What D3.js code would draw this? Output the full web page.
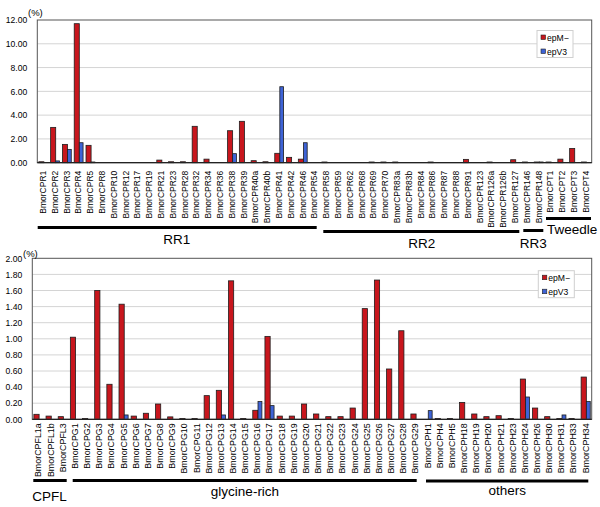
<!DOCTYPE html>
<html><head><meta charset="utf-8">
<script src="https://cdn.jsdelivr.net/npm/d3@7"></script>
<style>body{margin:0;background:#fff}svg{display:block}text{font-family:Arial,"Liberation Sans",sans-serif}</style>
</head><body>
<script>
const seriesNames = ["epM\u2212", "epV3"];
const topCategories = ["BmorCPR1","BmorCPR2","BmorCPR3","BmorCPR4","BmorCPR5","BmorCPR8","BmorCPR10","BmorCPR12","BmorCPR17","BmorCPR19","BmorCPR21","BmorCPR23","BmorCPR28","BmorCPR32","BmorCPR34","BmorCPR36","BmorCPR38","BmorCPR39","BmorCPR40a","BmorCPR40b","BmorCPR41","BmorCPR42","BmorCPR46","BmorCPR54","BmorCPR58","BmorCPR59","BmorCPR62","BmorCPR68","BmorCPR69","BmorCPR70","BmorCPR83a","BmorCPR83b","BmorCPR84","BmorCPR86","BmorCPR87","BmorCPR88","BmorCPR91","BmorCPR123","BmorCPR126a","BmorCPR126b","BmorCPR127","BmorCPR146","BmorCPR148","BmorCPT1","BmorCPT2","BmorCPT3","BmorCPT4"];
const topEpM = [0.08,2.97,1.54,11.69,1.46,0,0,0,0,0,0.22,0.08,0.08,3.06,0.30,0,2.69,3.48,0.17,0.08,0.79,0.45,0.30,0,0.06,0,0,0,0.06,0.06,0.06,0,0,0.06,0,0,0.28,0,0.06,0,0.25,0.06,0.06,0.06,0.30,1.20,0.06];
const topEpV3 = [0,0.15,1.12,1.68,0.06,0,0,0,0,0,0,0,0,0,0,0,0.76,0,0,0,6.39,0,1.68,0,0,0,0,0,0,0,0,0,0,0,0,0,0,0,0,0,0,0,0.06,0,0,0,0];
const topTicks = [0,2,4,6,8,10,12];
const topGroups = ["RR1","RR2","RR3","Tweedle"];

const botCategories = ["BmorCPFL1a","BmorCPFL1b","BmorCPFL3","BmorCPG1","BmorCPG2","BmorCPG3","BmorCPG4","BmorCPG5","BmorCPG6","BmorCPG7","BmorCPG8","BmorCPG9","BmorCPG10","BmorCPG11","BmorCPG12","BmorCPG13","BmorCPG14","BmorCPG15","BmorCPG16","BmorCPG17","BmorCPG18","BmorCPG19","BmorCPG20","BmorCPG21","BmorCPG22","BmorCPG23","BmorCPG24","BmorCPG25","BmorCPG26","BmorCPG27","BmorCPG28","BmorCPG29","BmorCPH1","BmorCPH4","BmorCPH5","BmorCPH18","BmorCPH19","BmorCPH20","BmorCPH21","BmorCPH23","BmorCPH24","BmorCPH26","BmorCPH30","BmorCPH31","BmorCPH33","BmorCPH34"];
const botEpM = [0.062,0.04,0.033,1.02,0.01,1.60,0.435,1.43,0.04,0.075,0.19,0.03,0.01,0.01,0.294,0.36,1.72,0.01,0.112,1.03,0.04,0.04,0.19,0.066,0.033,0.033,0.14,1.375,1.73,0.625,1.10,0.066,0,0.01,0.01,0.21,0.066,0.033,0.045,0.01,0.50,0.14,0.033,0.01,0.01,0.525];
const botEpV3 = [0,0,0,0,0,0,0,0.054,0,0,0,0,0,0,0,0.054,0,0,0.22,0.17,0,0,0,0,0,0,0,0,0,0,0,0,0.108,0,0,0,0,0,0,0,0.277,0,0,0.054,0,0.22];
const botTicks = [0,0.2,0.4,0.6,0.8,1.0,1.2,1.4,1.6,1.8,2.0];
const botGroups = ["CPFL","glycine-rich","others"];

const colors = ["#c8161d", "#3e63d6"];

const W = 600, H = 507;
const svg = d3.select("body").append("svg").attr("width", W).attr("height", H);

function chart(cfg) {
  const x = d3.scaleBand().domain(cfg.cats).range([cfg.x0, cfg.x1]);
  const y = d3.scaleLinear().domain([0, cfg.max]).range([cfg.y0, cfg.y1]);
  const g = svg.append("g");
  const bw = x.bandwidth();
  // gridlines
  g.append("g").selectAll("line").data(cfg.ticks.slice(1, -1)).join("line")
    .attr("x1", cfg.x0).attr("x2", cfg.x1).attr("y1", d => y(d)).attr("y2", d => y(d))
    .attr("stroke", "#d4d4d4").attr("stroke-width", 1);
  // bars
  const series = [cfg.a, cfg.b];
  const offs = [[0.13, 0.43], [0.56, 0.32]];
  series.forEach((vals, si) => {
    g.append("g").selectAll("rect").data(cfg.cats.map((c, i) => ({c, v: vals[i]})).filter(d => d.v > 0)).join("rect")
      .attr("x", d => x(d.c) + bw * offs[si][0])
      .attr("width", bw * offs[si][1])
      .attr("y", d => y(d.v))
      .attr("height", d => Math.max(0.6, y(0) - y(d.v)))
      .attr("fill", colors[si]).attr("stroke", "#1e1e1e").attr("stroke-width", 0.8);
  });
  // frame
  g.append("rect").attr("x", cfg.x0).attr("y", cfg.y1).attr("width", cfg.x1 - cfg.x0).attr("height", cfg.y0 - cfg.y1)
    .attr("fill", "none").attr("stroke", "#555").attr("stroke-width", 1);
  g.append("line").attr("x1", cfg.x0).attr("x2", cfg.x1).attr("y1", cfg.y0).attr("y2", cfg.y0).attr("stroke", "#222").attr("stroke-width", 1.2);
  // y axis
  const ya = g.append("g").attr("transform", `translate(${cfg.x0},0)`)
    .call(d3.axisLeft(y).tickValues(cfg.ticks).tickFormat(d3.format(".2f")).tickSize(0).tickPadding(10));
  ya.select(".domain").remove();
  ya.selectAll("text").attr("font-size", 8.6).attr("fill", "#000").style("font-family", "Arial, 'Liberation Sans', sans-serif");
  g.append("text").attr("x", cfg.pctX).attr("y", cfg.pctY).attr("font-size", 9.5).text("(%)");
  // x axis
  const xa = g.append("g").attr("transform", `translate(0,${cfg.y0})`)
    .call(d3.axisBottom(x).tickSize(0));
  xa.select(".domain").remove();
  xa.selectAll("text").attr("transform", "rotate(-90)").attr("text-anchor", "end")
    .attr("x", -cfg.lblGap).attr("y", 0).attr("dy", "0.34em").attr("dx", 0)
    .attr("font-size", cfg.lblSize).attr("fill", "#000").style("font-family", "Arial, 'Liberation Sans', sans-serif");
  // legend
  const lg = g.append("g").attr("transform", `translate(${cfg.legX},${cfg.legY})`);
  lg.append("rect").attr("width", 36).attr("height", 27).attr("fill", "#fff").attr("stroke", "#cfcfcf");
  seriesNames.forEach((n, i) => {
    lg.append("rect").attr("x", 4).attr("y", 4.5 + i * 14).attr("width", 4.5).attr("height", 4.5)
      .attr("fill", colors[i]).attr("stroke", "#222").attr("stroke-width", 0.6);
    lg.append("text").attr("x", 10).attr("y", 10 + i * 14).attr("font-size", 8.6).text(n);
  });
  // groups
  cfg.groups.forEach((gr, i) => {
    const s = cfg.groupSpec[i];
    g.append("line").attr("x1", s.l1).attr("x2", s.l2).attr("y1", s.ly).attr("y2", s.ly)
      .attr("stroke", "#000").attr("stroke-width", 3);
    g.append("text").attr("x", s.tx).attr("y", s.ty).attr("text-anchor", s.anchor).attr("font-size", 13.5).text(gr);
  });
}

chart({cats: topCategories, a: topEpM, b: topEpV3, max: 12, ticks: topTicks,
  x0: 37.3, x1: 591.7, y0: 162.7, y1: 20, pctX: 28, pctY: 16, lblGap: 8, lblSize: 8.5,
  legX: 537, legY: 30.5, groups: topGroups,
  groupSpec: [
    {l1: 37.7, l2: 316.7, ly: 227.5, tx: 176.7, ty: 243.5, anchor: "middle"},
    {l1: 323.3, l2: 519.3, ly: 231.5, tx: 421.7, ty: 247.5, anchor: "middle"},
    {l1: 523.3, l2: 543.3, ly: 230.5, tx: 533.3, ty: 247.5, anchor: "middle"},
    {l1: 546, l2: 591, ly: 218.5, tx: 547, ty: 234, anchor: "start"}
  ]});

chart({cats: botCategories, a: botEpM, b: botEpV3, max: 2, ticks: botTicks,
  x0: 32.3, x1: 591.7, y0: 419.3, y1: 258.3, pctX: 23, pctY: 256.5, lblGap: 4, lblSize: 8.9,
  legX: 538.3, legY: 270.7, groups: botGroups,
  groupSpec: [
    {l1: 33.3, l2: 66.7, ly: 480.5, tx: 32.3, ty: 500.5, anchor: "start"},
    {l1: 72.7, l2: 416.7, ly: 480.5, tx: 245, ty: 495.5, anchor: "middle"},
    {l1: 426, l2: 588.3, ly: 481, tx: 507.3, ty: 495, anchor: "middle"}
  ]});
</script>
</body></html>
